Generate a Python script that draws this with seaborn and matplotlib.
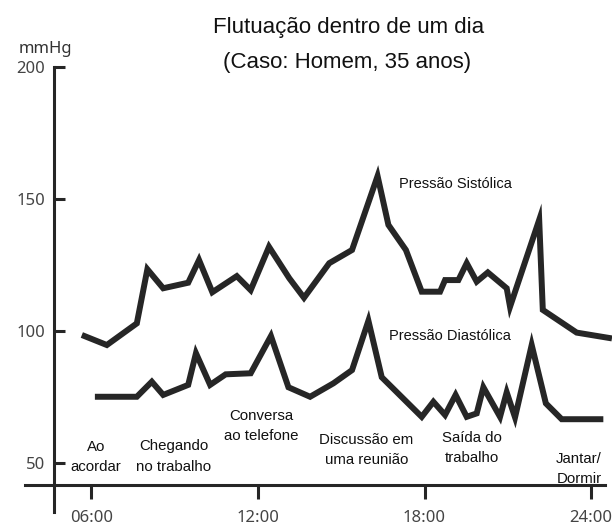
import matplotlib
matplotlib.use("Agg")
import matplotlib.pyplot as plt
import pandas as pd
import seaborn as sns

# ---- data ----
hours_sys = [5.66, 6.56, 7.64, 8.02, 8.59, 9.49, 9.88, 10.36, 11.24, 11.74, 12.40,
             13.13, 13.66, 14.57, 15.39, 16.31, 16.70, 17.33, 17.90, 18.56, 18.74,
             19.22, 19.52, 19.88, 20.28, 20.96, 21.08, 22.13, 22.26, 23.48, 24.75]
systolic = [98.3, 94.5, 102.7, 123.2, 116.0, 118.1, 126.7, 114.5, 120.6, 115.3, 131.7,
            119.8, 112.4, 125.5, 130.5, 158.5, 140.0, 130.5, 114.7, 114.7, 119.1,
            119.1, 125.5, 118.5, 122.0, 116.0, 109.0, 141.9, 107.8, 99.2, 97.0]
hours_dia = [6.13, 7.64, 8.18, 8.59, 9.49, 9.77, 10.28, 10.84, 11.74, 12.47, 13.10,
             13.88, 14.72, 15.39, 15.98, 16.46, 17.90, 18.32, 18.74, 19.12, 19.52,
             19.88, 20.12, 20.72, 20.96, 21.26, 21.86, 22.37, 22.94, 24.44]
diastolic = [74.9, 74.9, 80.6, 75.6, 79.4, 91.4, 79.4, 83.4, 83.8, 97.9, 78.5,
             74.9, 80.0, 85.0, 103.7, 82.3, 67.3, 73.0, 68.0, 75.6, 67.3,
             68.6, 78.5, 67.3, 76.6, 67.1, 94.5, 72.4, 66.4, 66.4]

x_ticks = [6, 12, 18, 24]
x_ticklabels = ["06:00", "12:00", "18:00", "24:00"]
y_ticks = [50, 100, 150, 200]
y_ticklabels = ["50", "100", "150", "200"]

title_lines = ["Flutuação dentro de um dia", "(Caso: Homem, 35 anos)"]
y_unit = "mmHg"
series_names = ["Pressão Sistólica", "Pressão Diastólica"]
events = [("Ao", "acordar"), ("Chegando", "no trabalho"), ("Conversa", "ao telefone"),
          ("Discussão em", "uma reunião"), ("Saída do", "trabalho"), ("Jantar/", "Dormir")]

df = pd.concat([
    pd.DataFrame({"hora": hours_sys, "pressao": systolic, "serie": series_names[0]}),
    pd.DataFrame({"hora": hours_dia, "pressao": diastolic, "serie": series_names[1]}),
], ignore_index=True)

# ---- style ----
sns.set_theme(style="white")
plt.rcParams["font.family"] = ["Liberation Sans", "DejaVu Sans"]

W, H = 612, 527
fig = plt.figure(figsize=(W / 100, H / 100), dpi=100)
fig.patch.set_facecolor("white")
ax = fig.add_axes([0, 0, 1, 1])
ax.set_facecolor("white")

ink = "#262626"
sns.lineplot(data=df, x="hora", y="pressao", hue="serie",
             palette={series_names[0]: ink, series_names[1]: ink},
             estimator=None, sort=False, legend=False, linewidth=4.3,
             solid_joinstyle="miter", solid_capstyle="butt", ax=ax, zorder=3)

ax.set_xlim(2.713, 24.752)
ax.set_ylim(25.57, 225.19)
ax.set_xlabel("")
ax.set_ylabel("")

for s in ["top", "right"]:
    ax.spines[s].set_visible(False)
for s in ["left", "bottom"]:
    ax.spines[s].set_visible(True)
    ax.spines[s].set_color(ink)
    ax.spines[s].set_linewidth(2.2)
ax.spines["left"].set_position(("data", 4.658))
ax.spines["left"].set_bounds(31.25, 200)
ax.spines["bottom"].set_position(("data", 41.3))
ax.spines["bottom"].set_bounds(3.61, 24.50)

tick_font = dict(family=["Noto Sans", "DejaVu Sans"], size=12, color="#444444")
ax.set_xticks(x_ticks)
ax.set_xticklabels(x_ticklabels, fontdict=tick_font)
ax.set_yticks(y_ticks)
ax.set_yticklabels(y_ticklabels, fontdict=tick_font)
ax.tick_params(axis="x", direction="out", length=10, width=2.2, color=ink, pad=7.5,
               bottom=True)
ax.tick_params(axis="y", direction="in", length=8, width=2.2, color=ink, pad=6.5,
               left=True)
ax.grid(False)


def fx(px):
    return px / W


def fy(py):
    return 1 - py / H


# title
fig.text(fx(348.5), fy(33), title_lines[0], ha="center", va="baseline",
         fontsize=16, color="#111111")
fig.text(fx(347.5), fy(68), title_lines[1], ha="center", va="baseline",
         fontsize=16, color="#111111")

# unit
fig.text(fx(45), fy(49), y_unit, ha="center", va="center",
         family=["Noto Sans", "DejaVu Sans"], fontsize=12, color="#333333")

# series labels
fig.text(fx(455), fy(188), series_names[0], ha="center", va="baseline",
         fontsize=10.5, color="#111111")
fig.text(fx(449.5), fy(340), series_names[1], ha="center", va="baseline",
         fontsize=10.5, color="#111111")

# event labels (x center, baseline line 1, baseline line 2)
event_pos = [(96, 451, 471), (173.5, 450, 471), (261, 420, 440),
             (366.5, 444, 464), (472, 442, 462), (579, 463, 483)]
for (l1, l2), (x, b1, b2) in zip(events, event_pos):
    fig.text(fx(x), fy(b1), l1, ha="center", va="baseline",
             fontsize=10.8, color="#111111")
    fig.text(fx(x), fy(b2), l2, ha="center", va="baseline",
             fontsize=10.8, color="#111111")

fig.savefig("out.png", dpi=100, facecolor="white")
